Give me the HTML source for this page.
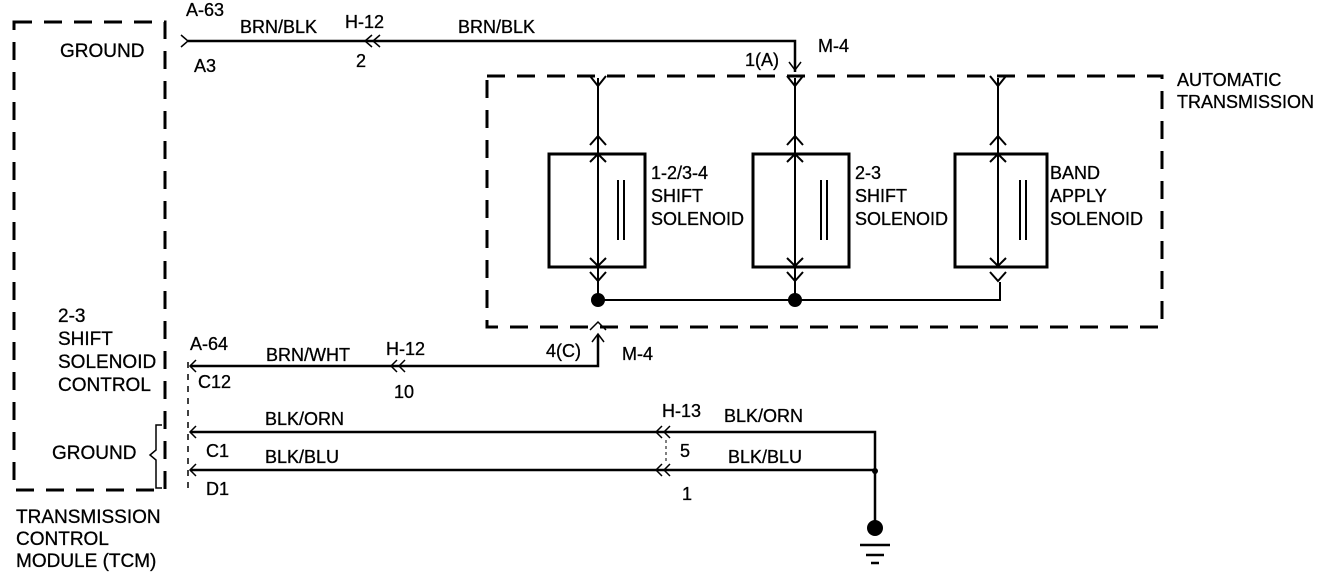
<!DOCTYPE html>
<html><head><style>
body{margin:0;background:#fff;}
svg{display:block;font-family:"Liberation Sans",sans-serif;}
text{font-size:18px;fill:#000;stroke:#000;stroke-width:0.3;}
.b{font-size:19px;}
</style></head><body>
<svg width="1344" height="576" viewBox="0 0 1344 576" xmlns="http://www.w3.org/2000/svg">
<g fill="none" stroke="#000">
<path d="M14 22 H165 V490 H14 Z" stroke-width="3" stroke-dasharray="18,12"/>
<path d="M487 76 H1162 V327 H487 Z" stroke-width="3" stroke-dasharray="18,12"/>
<path d="M188 41 H795 V72" stroke-width="2.5"/>
<path d="M181 35 L188 41 L181 47" stroke-width="1.5"/>
<path d="M372 35 L365 41 L372 47 M380 35 L373 41 L380 47" stroke-width="1.5"/>
<path d="M789 62 L795 70 L801 62" stroke-width="1.5"/>
<g stroke-width="2">
<path d="M598 78 V300 M795 78 V300 M998 78 V268"/>
<path d="M590 76 L598 86 L606 76 M787 76 L795 86 L803 76 M990 76 L998 86 L1006 76"/>
<path d="M590 145 L598 136 L606 145 M787 145 L795 136 L803 145 M990 145 L998 136 L1006 145"/>
<path d="M590 272 L598 281 L606 272 M787 272 L795 281 L803 272 M990 272 L998 281 L1006 272"/>
<path d="M590 162 L598 154 L606 162 M787 162 L795 154 L803 162 M990 162 L998 154 L1006 162"/>
<path d="M590 258 L598 266 L606 258 M787 258 L795 266 L803 258 M990 258 L998 266 L1006 258"/>
</g>
<g stroke-width="3">
<rect x="549" y="154" width="96" height="113"/>
<rect x="753" y="154" width="96" height="113"/>
<rect x="955" y="154" width="92" height="113"/>
</g>
<g stroke-width="2">
<path d="M618 180 V240 M624 180 V240 M821 180 V240 M827 180 V240 M1020 180 V240 M1026 180 V240"/>
</g>
<path d="M598 300 H1000 V282" stroke-width="2"/>
<path d="M190 366 H598 V335" stroke-width="2.5"/>
<path d="M592 342 L598 334 L604 342" stroke-width="1.5"/>
<path d="M590 330 L598 322 L606 330" stroke-width="1.5"/>
<path d="M196 360 L190 366 L196 372" stroke-width="1.5"/>
<path d="M397 360 L391 366 L397 372 M405 360 L399 366 L405 372" stroke-width="1.5"/>
<path d="M188 362 V490" stroke-width="1.5" stroke-dasharray="6,6"/>
<path d="M190 432 H875 V528 M190 470 H875" stroke-width="2.5"/>
<path d="M196 426 L190 432 L196 438 M196 464 L190 470 L196 476" stroke-width="1.5"/>
<path d="M662 426 L656 432 L662 438 M670 426 L664 432 L670 438 M662 464 L656 470 L662 476 M670 464 L664 470 L670 476" stroke-width="1.5"/>
<path d="M666 440 V462" stroke-width="1" stroke-dasharray="3,3"/>
<path d="M860 545 H890 M866 555 H884 M871 563 H879" stroke-width="2.5"/>
<path d="M162 425 H156 V450 L150 455 L156 460 V488 H162" stroke-width="1.5"/>
</g>
<g fill="#000">
<circle cx="598" cy="300" r="7"/>
<circle cx="795" cy="300" r="7"/>
<circle cx="875" cy="471" r="3"/>
<circle cx="875" cy="528" r="8"/>
</g>
<text class="b" x="60" y="57">GROUND</text>
<text x="186" y="16">A-63</text>
<text x="240" y="33">BRN/BLK</text>
<text x="345" y="28">H-12</text>
<text x="458" y="33">BRN/BLK</text>
<text x="194" y="72">A3</text>
<text x="356" y="67">2</text>
<text x="745" y="66">1(A)</text>
<text x="818" y="52">M-4</text>
<text x="1177" y="86">AUTOMATIC</text>
<text x="1177" y="108">TRANSMISSION</text>
<text x="651" y="179">1-2/3-4</text>
<text x="651" y="202">SHIFT</text>
<text x="651" y="225">SOLENOID</text>
<text x="855" y="179">2-3</text>
<text x="855" y="202">SHIFT</text>
<text x="855" y="225">SOLENOID</text>
<text x="1050" y="179">BAND</text>
<text x="1050" y="202">APPLY</text>
<text x="1050" y="225">SOLENOID</text>
<text class="b" x="58" y="322">2-3</text>
<text class="b" x="58" y="345">SHIFT</text>
<text class="b" x="58" y="368">SOLENOID</text>
<text class="b" x="58" y="391">CONTROL</text>
<text x="190" y="350">A-64</text>
<text x="266" y="361">BRN/WHT</text>
<text x="386" y="355">H-12</text>
<text x="198" y="388">C12</text>
<text x="394" y="398">10</text>
<text x="546" y="357">4(C)</text>
<text x="622" y="360">M-4</text>
<text x="265" y="425">BLK/ORN</text>
<text x="662" y="417">H-13</text>
<text x="724" y="422">BLK/ORN</text>
<text class="b" x="52" y="459">GROUND</text>
<text x="206" y="457">C1</text>
<text x="265" y="463">BLK/BLU</text>
<text x="680" y="457">5</text>
<text x="728" y="463">BLK/BLU</text>
<text x="206" y="495">D1</text>
<text x="682" y="500">1</text>
<text class="b" x="16" y="523">TRANSMISSION</text>
<text class="b" x="16" y="545">CONTROL</text>
<text class="b" x="16" y="567">MODULE (TCM)</text>
</svg>
</body></html>
